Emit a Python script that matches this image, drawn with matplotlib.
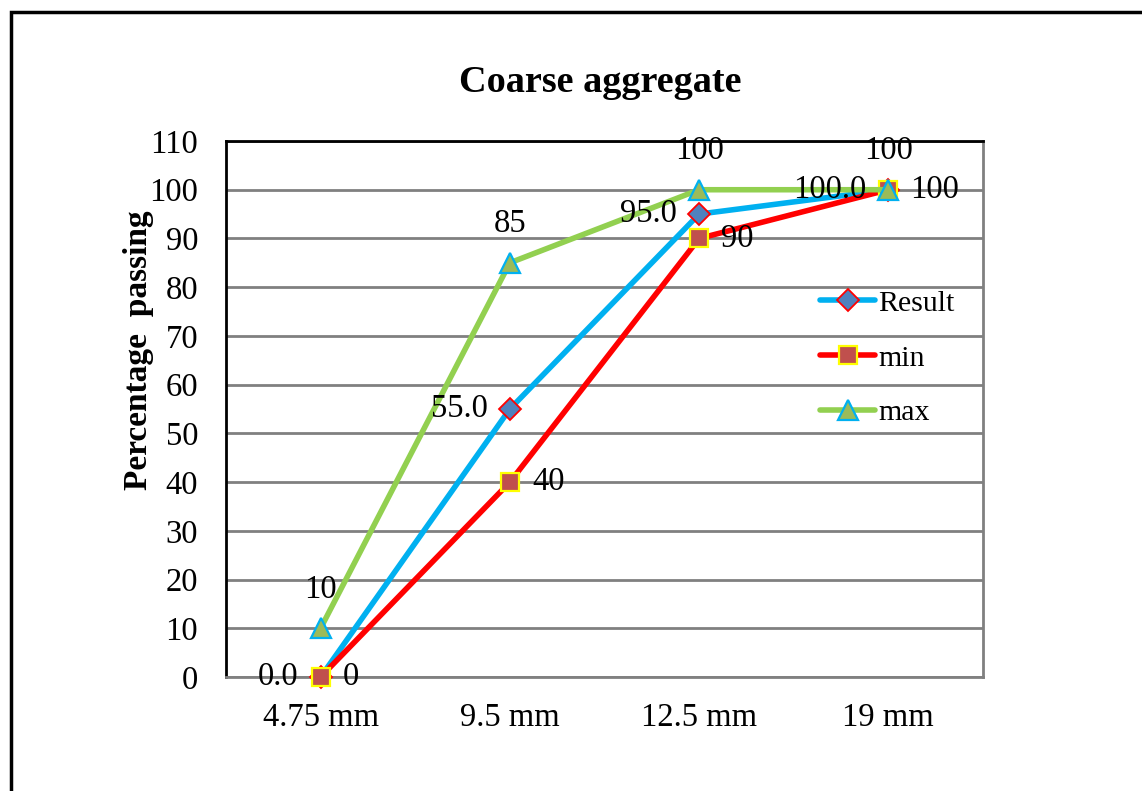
import matplotlib
matplotlib.use("Agg")
import matplotlib.pyplot as plt
from matplotlib.patches import Rectangle

categories = ["4.75 mm", "9.5 mm", "12.5 mm", "19 mm"]
result = [0.0, 55.0, 95.0, 100.0]
min_vals = [0, 40, 90, 100]
max_vals = [10, 85, 100, 100]
yticks = list(range(0, 111, 10))

plt.rcParams['font.family'] = ['Liberation Serif', 'DejaVu Serif']

fig = plt.figure(figsize=(11.42, 7.91), dpi=100)
ax = fig.add_axes([226/1142, 1-677/791, 757/1142, 536/791])

x = [i + 0.5 for i in range(len(categories))]

ax.plot(x, result, color='#00B0F0', lw=4.0, marker='D', markersize=11,
        markerfacecolor='#4F81BD', markeredgecolor='#FF0000', markeredgewidth=1.3,
        label='Result', zorder=3, clip_on=False, solid_capstyle='round')
ax.plot(x, min_vals, color='#FF0000', lw=4.0, marker='s', markersize=13,
        markerfacecolor='#C0504D', markeredgecolor='#FFFF00', markeredgewidth=1.6,
        label='min', zorder=4, clip_on=False, solid_capstyle='round')
ax.plot(x, max_vals, color='#92D050', lw=4.0, marker='^', markersize=15,
        markerfacecolor='#9BBB59', markeredgecolor='#00B0F0', markeredgewidth=1.6,
        label='max', zorder=5, clip_on=False, solid_capstyle='round')

fs = 23.5
for xi, v in zip(x, result):
    ax.annotate(f"{v:.1f}", (xi, v), xytext=(-16, 0), textcoords='offset points',
                ha='right', va='center', fontsize=fs, zorder=6)
for xi, v in zip(x, min_vals):
    ax.annotate(f"{v}", (xi, v), xytext=(16, 0), textcoords='offset points',
                ha='left', va='center', fontsize=fs, zorder=6)
for xi, v in zip(x, max_vals):
    ax.annotate(f"{v}", (xi, v), xytext=(0, 28), textcoords='offset points',
                ha='center', va='center', fontsize=fs, zorder=6)

ax.set_xlim(0, 4)
ax.set_ylim(0, 110)
ax.set_xticks(x)
ax.set_xticklabels(categories)
ax.set_yticks(yticks)
ax.tick_params(axis='both', length=0, labelsize=fs)
ax.tick_params(axis='y', pad=20)
ax.tick_params(axis='x', pad=18.5)
ax.yaxis.grid(True, color='#808080', lw=2)
ax.set_axisbelow(True)
for s in ['left', 'top']:
    ax.spines[s].set_color('black')
    ax.spines[s].set_linewidth(2)
for s in ['right', 'bottom']:
    ax.spines[s].set_color('#808080')
    ax.spines[s].set_linewidth(2)

fig.text(139/1142, 1-350/791, "Percentage  passing", fontsize=24, fontweight='bold',
         rotation=90, ha='center', va='center')
fig.text(600/1142, 1-83/791, "Coarse aggregate", fontsize=27.5, fontweight='bold',
         ha='center', va='center')

leg = ax.legend(loc='upper left', bbox_to_anchor=((820-226)/757, 1-(290-141)/536),
                frameon=False, fontsize=21.5, handlelength=1.85, handletextpad=0.1,
                labelspacing=0.93, borderaxespad=0, borderpad=0)

fig.patches.append(Rectangle((10.5/1142, -0.2), 1.3, 1.2 - 11.5/791,
                             transform=fig.transFigure, fill=False, lw=2.5,
                             edgecolor='black'))

fig.savefig("out.png", dpi=100)
